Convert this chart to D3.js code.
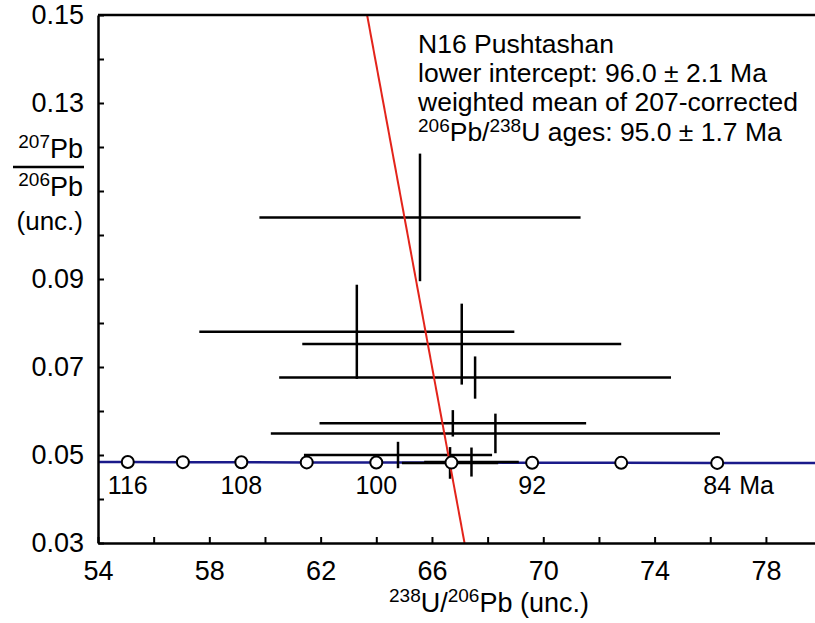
<!DOCTYPE html>
<html>
<head>
<meta charset="utf-8">
<script src="https://cdn.jsdelivr.net/npm/d3@7"></script>
<style>
  body { margin: 0; background: #fff; }
  text { font-family: "Liberation Sans", Arial, sans-serif; fill: #000; }
</style>
</head>
<body>
<div id="chart"></div>
<script>
// concordia tick marks (age in Ma and their position)
let concAges = [116, 112, 108, 104, 100, 96, 92, 88, 84]
let concX = [55.07, 57.05, 59.15, 61.50, 64.00, 66.70, 69.60, 72.80, 76.25]
let concY = [0.04840, 0.04838, 0.04835, 0.04832, 0.04830, 0.04827, 0.04825, 0.04822, 0.04820]
let labelAges = [116, 108, 100, 92, 84]

// spot analyses: 238U/206Pb, 207Pb/206Pb and their errors
let spotX = [65.57, 63.30, 67.07, 67.55, 66.75, 68.28, 64.78, 66.65, 67.42]
let spotXErr = [5.77, 5.66, 5.73, 7.04, 4.79, 8.07, 3.38, 1.73, 1.70]
let spotY = [0.1040, 0.0780, 0.0752, 0.0676, 0.0572, 0.0549, 0.0500, 0.0482, 0.0484]
let spotYErr = [0.0145, 0.0107, 0.0092, 0.0048, 0.0030, 0.0045, 0.0030, 0.0036, 0.0033]

// regression line end points
let regX = [63.67, 67.17]
let regY = [0.15, 0.03]

let xTicks = [54, 56, 58, 60, 62, 64, 66, 68, 70, 72, 74, 76, 78, 80]
let xLabels = [54, 58, 62, 66, 70, 74, 78]
let yTicks = [0.03, 0.04, 0.05, 0.06, 0.07, 0.08, 0.09, 0.10, 0.11, 0.12, 0.13, 0.14, 0.15]
let yLabels = [0.03, 0.05, 0.07, 0.09, 0.13, 0.15]

let width = 815
let height = 623
let plot = { left: 98, top: 15, bottom: 543 }

let svg = d3.select('#chart')
    .append('svg')
    .attr('width', width)
    .attr('height', height)

let x = d3.scaleLinear()
    .domain([54, 80])
    .range([plot.left, plot.left + 26 * 27.83])
let y = d3.scaleLinear()
    .domain([0.03, 0.15])
    .range([plot.bottom, plot.top])

svg.append('defs')
    .append('clipPath')
    .attr('id', 'clip')
    .append('rect')
    .attr('x', plot.left)
    .attr('y', plot.top)
    .attr('width', width - plot.left)
    .attr('height', plot.bottom - plot.top)

let inner = svg.append('g').attr('clip-path', 'url(#clip)')

// concordia curve
let concLine = [[54, 0.04842]].concat(concX.map((v, i) => [v, concY[i]])).concat([[80, 0.04818]])
inner.append('path')
    .datum(concLine)
    .attr('d', d3.line().x(d => x(d[0])).y(d => y(d[1])))
    .attr('fill', 'none')
    .attr('stroke', '#1a1a8a')
    .attr('stroke-width', 2.5)

// error crosses
let spots = spotX.map((v, i) => ({ x: v, xe: spotXErr[i], y: spotY[i], ye: spotYErr[i] }))
let cross = inner.selectAll('.spot')
    .data(spots)
    .enter()
    .append('g')
    .attr('class', 'spot')
cross.append('line')
    .attr('x1', d => x(d.x - d.xe))
    .attr('x2', d => x(d.x + d.xe))
    .attr('y1', d => y(d.y))
    .attr('y2', d => y(d.y))
    .attr('stroke', '#000')
    .attr('stroke-width', 2.5)
cross.append('line')
    .attr('x1', d => x(d.x))
    .attr('x2', d => x(d.x))
    .attr('y1', d => y(d.y - d.ye))
    .attr('y2', d => y(d.y + d.ye))
    .attr('stroke', '#000')
    .attr('stroke-width', 2.5)

// regression line
inner.append('line')
    .attr('x1', x(regX[0]))
    .attr('y1', y(regY[0]))
    .attr('x2', x(regX[1]))
    .attr('y2', y(regY[1]))
    .attr('stroke', '#e3241b')
    .attr('stroke-width', 2)

// concordia age markers
inner.selectAll('.age')
    .data(concAges.map((a, i) => ({ age: a, x: concX[i], y: concY[i] })))
    .enter()
    .append('circle')
    .attr('class', 'age')
    .attr('cx', d => x(d.x))
    .attr('cy', d => y(d.y))
    .attr('r', 6)
    .attr('fill', '#fff')
    .attr('stroke', '#000')
    .attr('stroke-width', 2)

labelAges.forEach(function(a) {
    let i = concAges.indexOf(a)
    svg.append('text')
        .attr('x', x(concX[i]))
        .attr('y', 494)
        .attr('text-anchor', 'middle')
        .style('font-size', '25px')
        .text(a)
    if (a == 84) {
        svg.append('text')
            .attr('x', x(concX[i]) + 22)
            .attr('y', 494)
            .style('font-size', '25px')
            .text('Ma')
    }
})

// axes
let xAxis = svg.append('g')
    .attr('transform', 'translate(0,' + plot.bottom + ')')
    .call(d3.axisBottom(x)
        .tickValues(xTicks)
        .tickSizeInner(-6)
        .tickSizeOuter(0)
        .tickPadding(14)
        .tickFormat(d => xLabels.includes(d) ? d : ''))
let yAxis = svg.append('g')
    .attr('transform', 'translate(' + plot.left + ',0)')
    .call(d3.axisLeft(y)
        .tickValues(yTicks)
        .tickSizeInner(-6)
        .tickSizeOuter(0)
        .tickPadding(14)
        .tickFormat(d => yLabels.some(v => Math.abs(v - d) < 1e-9) ? d3.format('.2f')(d) : ''))
;[xAxis, yAxis].forEach(function(ax) {
    ax.select('.domain').attr('stroke-width', 2.5)
    ax.selectAll('.tick line').attr('stroke-width', 2)
    ax.selectAll('.tick text')
        .style('font-size', '27px')
        .style('font-family', '"Liberation Sans", Arial, sans-serif')
})
xAxis.selectAll('.tick text').attr('dy', '0.85em')

// top frame line
svg.append('line')
    .attr('x1', plot.left)
    .attr('x2', width)
    .attr('y1', plot.top)
    .attr('y2', plot.top)
    .attr('stroke', '#000')
    .attr('stroke-width', 2.5)

// y title
let yt = svg.append('g').attr('text-anchor', 'end')
let t1 = yt.append('text').attr('x', 83).attr('y', 158).style('font-size', '27px')
t1.append('tspan').style('font-size', '19px').attr('dy', -10).text('207')
t1.append('tspan').attr('dy', 10).text('Pb')
svg.append('line')
    .attr('x1', 13).attr('x2', 84)
    .attr('y1', 167).attr('y2', 167)
    .attr('stroke', '#000').attr('stroke-width', 2.5)
let t2 = yt.append('text').attr('x', 83).attr('y', 196).style('font-size', '27px')
t2.append('tspan').style('font-size', '19px').attr('dy', -10).text('206')
t2.append('tspan').attr('dy', 10).text('Pb')
yt.append('text').attr('x', 83).attr('y', 230).style('font-size', '26px').text('(unc.)')

// x title
let xt = svg.append('text')
    .attr('x', 489)
    .attr('y', 612)
    .attr('text-anchor', 'middle')
    .style('font-size', '27px')
xt.append('tspan').style('font-size', '19px').attr('dy', -10).text('238')
xt.append('tspan').attr('dy', 10).text('U/')
xt.append('tspan').style('font-size', '19px').attr('dy', -10).text('206')
xt.append('tspan').attr('dy', 10).text('Pb (unc.)')

// annotation
let note = svg.append('g').style('font-size', '26.5px')
note.append('text').attr('x', 418).attr('y', 53).text('N16 Pushtashan')
note.append('text').attr('x', 418).attr('y', 82).text('lower intercept: 96.0 ± 2.1 Ma')
note.append('text').attr('x', 418).attr('y', 111).text('weighted mean of 207-corrected')
let n4 = note.append('text').attr('x', 418).attr('y', 141)
n4.append('tspan').style('font-size', '19px').attr('dy', -9).text('206')
n4.append('tspan').attr('dy', 9).text('Pb/')
n4.append('tspan').style('font-size', '19px').attr('dy', -9).text('238')
n4.append('tspan').attr('dy', 9).text('U ages: 95.0 ± 1.7 Ma')
</script>
</body>
</html>
